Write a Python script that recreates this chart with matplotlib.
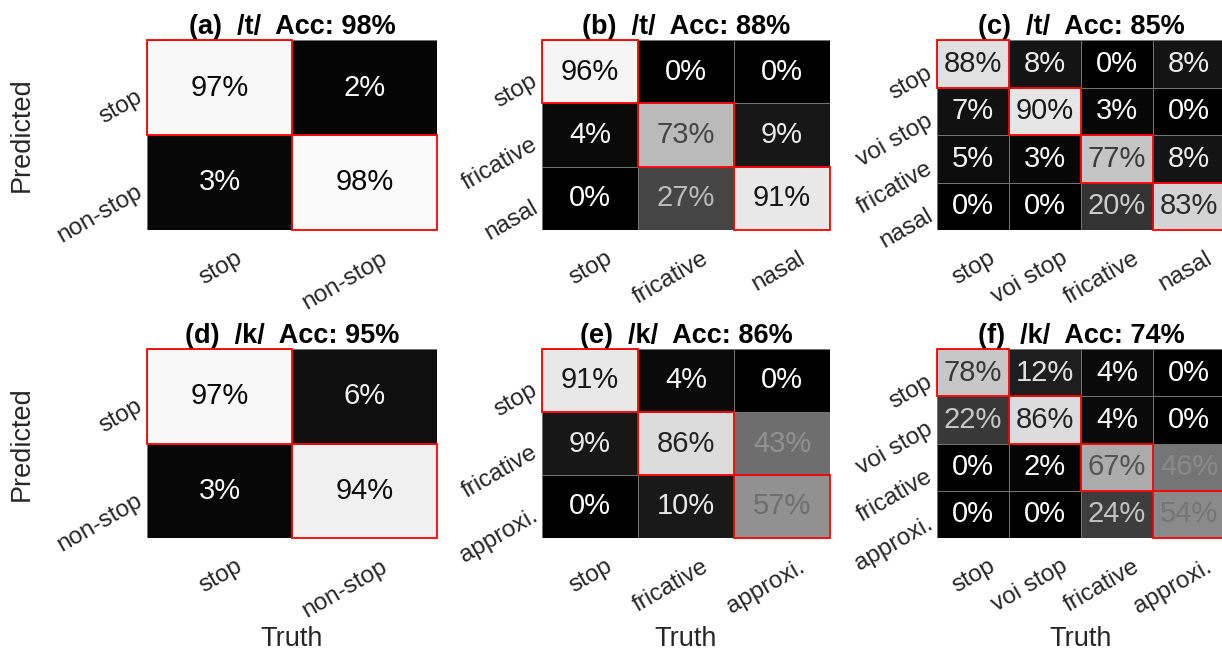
import matplotlib
matplotlib.use("Agg")
import matplotlib.pyplot as plt
import matplotlib.transforms as mtransforms
from matplotlib.patches import Rectangle
import numpy as np

plt.rcParams['font.family'] = ['Liberation Sans', 'DejaVu Sans']

# Confusion matrices (rows = predicted class, columns = true class), in percent
labels_2 = ["stop", "non-stop"]
labels_3t = ["stop", "fricative", "nasal"]
labels_4t = ["stop", "voi stop", "fricative", "nasal"]
labels_3k = ["stop", "fricative", "approxi."]
labels_4k = ["stop", "voi stop", "fricative", "approxi."]

cm_a = [[97, 2], [3, 98]]
cm_b = [[96, 0, 0], [4, 73, 9], [0, 27, 91]]
cm_c = [[88, 8, 0, 8], [7, 90, 3, 0], [5, 3, 77, 8], [0, 0, 20, 83]]
cm_d = [[97, 6], [3, 94]]
cm_e = [[91, 4, 0], [9, 86, 43], [0, 10, 57]]
cm_f = [[78, 12, 4, 0], [22, 86, 4, 0], [0, 2, 67, 46], [0, 0, 24, 54]]

panel_tags = ["(a)", "(b)", "(c)", "(d)", "(e)", "(f)"]
phonemes = ["/t/", "/t/", "/t/", "/k/", "/k/", "/k/"]
accuracies = [98, 88, 85, 95, 86, 74]

matrices = [cm_a, cm_b, cm_c, cm_d, cm_e, cm_f]
class_labels = [labels_2, labels_3t, labels_4t, labels_2, labels_3k, labels_4k]

W, H = 1222, 653
fig = plt.figure(figsize=(W / 100, H / 100), dpi=100)

col_x = [(147, 437), (542, 830), (937, 1225)]
row_y = [(40, 230), (349, 538)]

text_dark = "#262626"

for idx in range(6):
    r, c = divmod(idx, 3)
    x0, x1 = col_x[c]
    y0, y1 = row_y[r]
    ax = fig.add_axes([x0 / W, 1 - y1 / H, (x1 - x0) / W, (y1 - y0) / H])

    m = np.array(matrices[idx], dtype=float) / 100.0
    n = m.shape[0]
    ax.pcolormesh(np.arange(n + 1) - 0.5, np.arange(n + 1) - 0.5, m,
                  cmap="gray", vmin=0, vmax=1,
                  edgecolors=(0.45, 0.45, 0.45), linewidth=0.7)
    ax.set_xlim(-0.5, n - 0.5)
    ax.set_ylim(n - 0.5, -0.5)

    # cell annotations in the inverse grey of the cell
    for i in range(n):
        for j in range(n):
            g = 1 - m[i, j]
            ax.text(j, i, f"{matrices[idx][i][j]}%", ha="center", va="center",
                    fontsize=21, color=(g, g, g))

    # outline the correct-classification cells
    for k in range(n):
        ax.add_patch(Rectangle((k - 0.5, k - 0.5), 1, 1, fill=False,
                               edgecolor="red", linewidth=1.3, zorder=5,
                               clip_on=False))

    for s in ax.spines.values():
        s.set_visible(False)

    labs = class_labels[idx]
    ax.set_xticks(range(n))
    ax.set_xticklabels(labs, rotation=30, ha="right", va="center",
                       rotation_mode="anchor", fontsize=17.5, color=text_dark)
    ax.set_yticks(range(n))
    ax.set_yticklabels(labs, rotation=30, ha="right", va="center",
                       rotation_mode="anchor", fontsize=17.5, color=text_dark)
    ax.tick_params(length=0, pad=0)

    dx_off = mtransforms.ScaledTranslation(21 / 100, -27 / 100, fig.dpi_scale_trans)
    for lab in ax.get_xticklabels():
        lab.set_transform(lab.get_transform() + dx_off)
    dy_off = mtransforms.ScaledTranslation(-6 / 100, -8 / 100, fig.dpi_scale_trans)
    for lab in ax.get_yticklabels():
        lab.set_transform(lab.get_transform() + dy_off)

    ax.set_title(f"{panel_tags[idx]}  {phonemes[idx]}  Acc: {accuracies[idx]}%",
                 fontsize=19.5, fontweight="bold", color="black", pad=3)

# Shared axis labels
for (y0, y1) in row_y:
    fig.text(22 / W, 1 - (y0 + y1) / 2 / H, "Predicted", rotation=90,
             ha="center", va="center", fontsize=19.5, color=text_dark)
for (x0, x1) in col_x:
    fig.text((x0 + x1) / 2 / W, 1 - 639 / H, "Truth",
             ha="center", va="center", fontsize=19.5, color=text_dark)

fig.savefig("out.png", dpi=100)
